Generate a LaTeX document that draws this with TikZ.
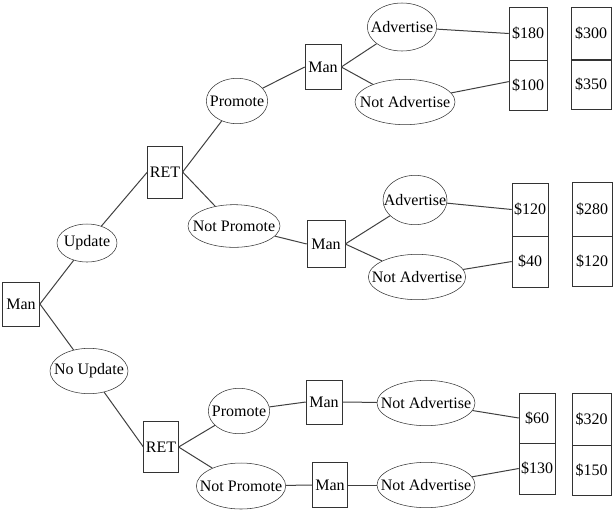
\documentclass[tikz,border=0pt]{standalone}
\usepackage{fontspec}
\setmainfont{Liberation Serif}
\usetikzlibrary{shapes.geometric}
\begin{document}
\begin{tikzpicture}
        [x=0.75pt, y=-0.75pt, font=\fontsize{12}{14}\selectfont,
        box/.style={rectangle,draw=black!80,inner sep=0pt,minimum width=27pt,minimum height=34pt},
        choice/.style={ellipse,draw=black!80,inner sep=0pt,
            execute at begin node=\hbox to 0pt\bgroup\hss, execute at end node=\hss\egroup},
        payoff/.style={rectangle,draw=black!80,inner sep=0pt,minimum width=28.5pt,minimum height=38pt},
        link/.style={draw=black!75, line width=0.75pt}]
        \useasboundingbox (0,0) rectangle (616,512);

        % decision and chance nodes
        \node[box, minimum width=28pt, minimum height=33pt] (M) at (21,304) {Man};
        \node[choice, minimum width=45pt, minimum height=28.5pt] (U) at (87,243) {Update};
        \node[choice, minimum width=58.5pt, minimum height=34pt] (NU) at (89,371) {No Update};
        \node[box, minimum width=26pt, minimum height=39pt] (R) at (165,172) {RET};
        \node[box, minimum width=26pt, minimum height=38pt] (S) at (161,447) {RET};
        \node[choice, minimum width=46pt, minimum height=34pt] (P) at (237,101) {Promote};
        \node[choice, minimum width=69pt, minimum height=32pt] (NP) at (234,226) {Not Promote};
        \node[choice, minimum width=46pt, minimum height=34pt] (Q) at (239,411) {Promote};
        \node[choice, minimum width=67pt, minimum height=34.5pt] (NQ) at (241,486) {Not Promote};
        \node[box] (A) at (323,67) {Man};
        \node[box, minimum width=28.5pt, minimum height=35pt] (B) at (326,244) {Man};
        \node[box, minimum height=33pt] (C) at (324,402) {Man};
        \node[box, minimum width=26pt] (D) at (330,485) {Man};
        \node[choice, minimum width=52pt, minimum height=36pt] (A1) at (402,27) {Advertise};
        \node[choice, minimum width=75pt, minimum height=34pt] (A2) at (405,102) {Not Advertise};
        \node[choice, minimum width=48pt, minimum height=37pt] (B1) at (415,200) {Advertise};
        \node[choice, minimum width=73pt, minimum height=34pt] (B2) at (417,277) {Not Advertise};
        \node[choice, minimum width=73.5pt, minimum height=34pt] (C1) at (426,403) {Not Advertise};
        \node[choice, minimum width=73.5pt, minimum height=34pt] (D1) at (426,485) {Not Advertise};

        % payoffs
        \node[payoff, minimum height=39.75pt] (pA1) at (528,33.5) {\$180};
        \node[payoff, minimum height=37.5pt] (pA2) at (528,85) {\$100};
        \node[payoff, minimum width=30pt, minimum height=39.75pt] (qA1) at (591,33.5) {\$300};
        \node[payoff, minimum width=30pt, minimum height=37.5pt] (qA2) at (591,84.5) {\$350};
        \node[payoff, minimum width=27pt, minimum height=39.75pt] (pB1) at (530,209.5) {\$120};
        \node[payoff, minimum width=27pt] (pB2) at (530,261.5) {\$40};
        \node[payoff, minimum width=30pt, minimum height=40.5pt] (qB1) at (592,209) {\$280};
        \node[payoff, minimum width=30pt, minimum height=37.5pt] (qB2) at (592,261) {\$120};
        \node[payoff, minimum width=27pt, minimum height=37.5pt] (pC1) at (537,418) {\$60};
        \node[payoff, minimum width=27pt, minimum height=38.25pt] (pD1) at (537,468.5) {\$130};
        \node[payoff, minimum width=29pt, minimum height=39pt] (qC1) at (591.5,419) {\$320};
        \node[payoff, minimum width=29pt, minimum height=37.5pt] (qD1) at (591.5,470) {\$150};

        \draw[link] (M.east) -- (U);
        \draw[link] (M.east) -- (NU);
        \draw[link] (U) -- (R.west);
        \draw[link] (NU) -- (S.west);

        \draw[link] (R.east) -- (P);
        \draw[link] (R.east) -- (NP);
        \draw[link] (S.east) -- (Q);
        \draw[link] (S.east) -- (NQ);

        \draw[link] (P) -- (A.west);
        \draw[link] (NP) -- (B.west);
        \draw[link] (Q) -- (C.west);
        \draw[link] (NQ) -- (D.west);

        \draw[link] (A.east) -- (A1);
        \draw[link] (A.east) -- (A2);
        \draw[link] (B.east) -- (B1);
        \draw[link] (B.east) -- (B2);
        \draw[link] (C.east) -- (C1);
        \draw[link] (D.east) -- (D1);

        \draw[link] (A1) -- (pA1.west);
        \draw[link] (A2) -- (pA2.170);
        \draw[link] (B1) -- (pB1.west);
        \draw[link] (B2) -- (pB2.west);
        \draw[link] (C1) -- (pC1.west);
        \draw[link] (D1) -- (pD1.west);
    \end{tikzpicture}
\end{document}
